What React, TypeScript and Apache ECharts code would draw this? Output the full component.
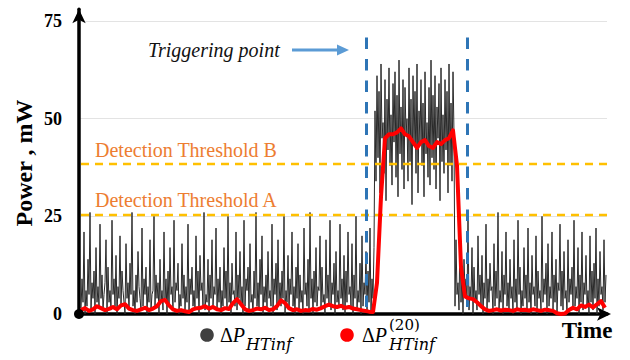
import { useEffect, useRef } from "react";
import * as echarts from "echarts";

// Instantaneous power difference (mW), one sample per time step
const powerNoise: number[] = [
  // before trigger
  1, 9, 3, 21, 0, 6, 2, 14, 5, 26, 1, 8, 4, 11, 0, 17, 3, 7, 2, 23,
  4, 10, 1, 5, 8, 19, 0, 12, 3, 6, 1, 24, 5, 9, 2, 15, 0, 7, 4, 20,
  2, 11, 6, 3, 0, 18, 4, 8, 1, 13, 5, 26, 2, 6, 0, 10, 3, 16, 7, 4,
  1, 22, 2, 9, 5, 12, 0, 7, 3, 19, 1, 5, 6, 25, 2, 10, 4, 8, 0, 14,
  3, 6, 1, 21, 4, 9, 0, 11, 2, 17, 5, 7, 1, 24, 3, 8, 6, 13, 0, 5,
  2, 18, 4, 10, 1, 7, 3, 23, 0, 9, 5, 12, 2, 6, 1, 20, 4, 11, 0, 15,
  6, 8, 2, 26, 1, 5, 3, 14, 0, 10, 4, 19, 2, 7, 5, 22, 1, 9, 3, 12,
  0, 6, 2, 17, 4, 11, 1, 25, 3, 8, 0, 13, 5, 6, 2, 21, 1, 10, 4, 16,
  3, 7, 0, 24, 2, 9, 6, 12, 1, 18, 3, 5, 0, 11, 4, 26, 2, 8, 1, 14,
  5, 20, 0, 7, 3, 10, 1, 16, 4, 6, 2, 23, 0, 9, 5, 13, 1, 19, 3, 8,
  2, 11, 4, 25, 0, 6, 3, 15, 1, 9, 5, 21, 2, 7, 0, 12, 4, 18, 1, 10,
  3, 6, 0, 22, 5, 8, 2, 14, 1, 26, 4, 9, 0, 11, 3, 17, 2, 7, 6, 20,
  1, 12, 3, 5, 0, 19, 4, 10, 2, 24, 1, 8, 5, 13, 0, 16, 3, 6, 2, 23,
  4, 9, 1, 15, 0, 11, 3, 21, 5, 7, 2, 18, 0, 10, 4, 25, 1, 6, 3, 13,
  0, 20, 2, 8, 5, 16, 1, 11, 3, 22, 0, 9, 4, 17,
  // trojan active
  52, 34, 61, 40, 57, 31, 64, 45, 49, 36, 60, 29, 55, 42, 63, 38, 51, 33, 59, 44,
  62, 35, 56, 30, 65, 41, 53, 37, 60, 32, 58, 46, 50, 34, 63, 39, 55, 28, 61, 43,
  57, 36, 64, 31, 52, 44, 60, 38, 54, 30, 62, 41, 49, 35, 58, 33, 65, 40, 56, 37,
  61, 32, 53, 45, 59, 29, 63, 39, 51, 36, 60, 42, 57, 31, 64, 38, 54, 34, 62, 46,
  // after
  2, 19, 5, 8, 1, 22, 3, 11, 0, 14, 6, 9, 2, 25, 1, 7, 4, 17, 0, 12,
  3, 6, 1, 20, 5, 10, 2, 15, 0, 8, 4, 23, 1, 9, 3, 13, 6, 7, 0, 18,
  2, 11, 4, 26, 1, 6, 3, 16, 0, 10, 5, 21, 2, 8, 1, 14, 4, 7, 0, 19,
  3, 9, 1, 24, 5, 12, 0, 6, 2, 17, 4, 10, 1, 22, 3, 8, 0, 15, 5, 7,
  2, 20, 0, 11, 4, 6, 1, 25, 3, 9, 5, 13, 0, 18, 2, 7, 4, 21, 1, 10,
  3, 14, 0, 8, 6, 23, 2, 11, 1, 16, 4, 6, 0, 19, 3, 9, 5, 12, 1, 24,
  2, 7, 4, 17, 0, 10, 3, 21, 1, 8, 5, 15, 2, 6, 0, 20, 3, 11, 1, 13,
  4, 22, 0, 9, 2, 16, 5, 7, 1, 19, 3, 10,
];

// 20-sample moving average (mW), one value every 4 time steps
const avgStep = 4;
const powerAvg20: number[] = [
  1, 1.5, 0.8, 1.2, 2, 1.5, 1, 1.3, 1.8, 1.2,
  2.2, 2.5, 1.4, 1, 0.8, 1.2, 1.6, 1, 1.4, 2,
  3.3, 3.6, 2.2, 1.2, 0.8, 1, 0.7, 0.5, 1.2, 1.5,
  1.6, 2, 1.4, 1.8, 1.2, 1, 1.5, 1.3, 2.8, 3.8,
  2.5, 1.2, 0.8, 1, 1.4, 1.2, 1.6, 1, 1.2, 2,
  3.5, 2.8, 1.5, 1, 1.2, 0.8, 1, 0.9, 1.3, 1.1,
  1.5, 2, 2.4, 2, 1.8, 2.1, 1.6, 1.8, 1.4, 1.2,
  1, 0.8, 0.6, 0.5,
  8, 30,
  45, 46, 46, 46.5, 47.5, 46, 45.5, 44, 42.5, 44, 44.5, 43, 42.5, 44, 43.5, 44.5, 45, 47,
  38, 12,
  4.5, 4, 3.8, 3, 2, 1.2, 0.8, 1, 1.2, 0.9,
  1.1, 1, 0.8, 1.2, 1, 1.1, 0.9, 1.2, 1, 0.8,
  1.1, 1, 0.8, 0.2, 0, 0.1, 1, 1.6, 1.2, 2.2,
  1.8, 2.4, 1.7, 2.5, 3.3, 1.6,
];

const yTicks = [0, 25, 50, 75];
const yMax = 78;
const thresholdA = 25.3;
const thresholdB = 38.4;
const triggerStart = 285;
const triggerEnd = 386;
const triggerLow = 1.8;
const triggerHigh = 72;

const SERIF = "Liberation Serif";
const MATH = "DejaVu Serif";

export default function App() {
  const ref = useRef<HTMLDivElement>(null);

  useEffect(() => {
    const chart = echarts.init(ref.current!, null, { renderer: "svg" });
    const lastX = powerNoise.length - 1;
    const noiseData = powerNoise.map((v, i) => [i, v]);
    const avgData = powerAvg20.map((v, k) => [k * avgStep, v]);

    const hLine = (y: number, color: string, width: number, type: any) => [
      { coord: [0, y], lineStyle: { color, width, type } },
      { coord: [lastX + 1, y] },
    ];
    const vLine = (x: number) => [
      { coord: [x, triggerLow], lineStyle: { color: "#2E75B6", width: 3, type: [11.5, 10] } },
      { coord: [x, triggerHigh] },
    ];

    const legendText = (x: number, y: number, text: string, size: number, italic: boolean, font: string) => ({
      type: "text",
      x,
      y,
      style: {
        text,
        fontFamily: font,
        fontSize: size,
        fontStyle: italic ? "italic" : "normal",
        fill: "#000",
        align: "left",
        verticalAlign: "middle",
      },
    });

    const deltaP = (x: number) => ({
      type: "text",
      x,
      y: 334.5,
      style: {
        text: "{a|Δ}{b|P}",
        fill: "#000",
        align: "left",
        verticalAlign: "middle",
        rich: {
          a: { fontFamily: SERIF, fontSize: 20, fill: "#000" },
          b: { fontFamily: SERIF, fontSize: 20, fontStyle: "italic", fill: "#000" },
        },
      },
    });

    const option: any = {
      animation: false,
      grid: {
        left: 79,
        right: 23,
        top: 9.3,
        bottom: 46,
        containLabel: false,
        outerBoundsMode: "none",
      },
      xAxis: {
        type: "value",
        min: -2,
        max: lastX + 1,
        axisLine: {
          show: true,
          onZero: false,
          symbol: ["none", "arrow"],
          symbolSize: [10, 14],
          symbolOffset: [0, 4],
          lineStyle: { color: "#000", width: 3.5 },
        },
        axisTick: { show: false },
        axisLabel: { show: false },
        splitLine: { show: false },
      },
      yAxis: {
        type: "value",
        min: yTicks[0],
        max: yMax,
        interval: yTicks[1] - yTicks[0],
        axisLine: {
          show: true,
          onZero: false,
          symbol: ["none", "arrow"],
          symbolSize: [10, 14],
          lineStyle: { color: "#000", width: 3.5 },
        },
        axisTick: { show: false },
        axisLabel: {
          show: true,
          margin: 17,
          fontSize: 18,
          fontWeight: "bold",
          fontFamily: SERIF,
          color: "#000",
          showMaxLabel: false,
          formatter: (v: number) => (yTicks.includes(v) ? String(v) : ""),
        },
        splitLine: {
          show: true,
          showMinLine: false,
          showMaxLine: false,
          lineStyle: { color: "#E3E3E3", width: 1 },
        },
      },
      series: [
        {
          type: "line",
          name: "noise",
          data: noiseData,
          symbol: "none",
          showSymbol: false,
          sampling: "none",
          z: 2,
          silent: true,
          lineStyle: { color: "#2a2a2a", width: 1 },
          emphasis: { disabled: true },
          markLine: {
            silent: true,
            symbol: "none",
            z: 5,
            label: { show: false },
            emphasis: { disabled: true },
            data: [
              hLine(thresholdB, "#FFC000", 2.3, [8, 6]),
              hLine(thresholdA, "#FFC000", 2.3, [8, 6]),
              vLine(triggerStart),
              vLine(triggerEnd),
            ],
          },
        },
        {
          type: "line",
          name: "avg",
          data: avgData,
          symbol: "none",
          showSymbol: false,
          z: 8,
          silent: true,
          lineStyle: { color: "#FF0000", width: 4, join: "round" },
          emphasis: { disabled: true },
        },
      ],
      graphic: [
        { type: "circle", shape: { cx: 79, cy: 314, r: 5 }, style: { fill: "#000" }, z: 100 },
        {
          type: "text",
          x: 24,
          y: 163,
          rotation: Math.PI / 2,
          style: {
            text: "Power , mW",
            fontFamily: SERIF,
            fontSize: 24,
            fontWeight: "bold",
            fill: "#000",
            align: "center",
            verticalAlign: "middle",
          },
        },
        {
          type: "text",
          x: 587,
          y: 330,
          style: {
            text: "Time",
            fontFamily: SERIF,
            fontSize: 23,
            fontWeight: "bold",
            fill: "#000",
            align: "center",
            verticalAlign: "middle",
          },
        },
        {
          type: "text",
          x: 95,
          y: 150,
          style: {
            text: "Detection Threshold B",
            fontFamily: SERIF,
            fontSize: 20,
            fill: "#ED7D31",
            align: "left",
            verticalAlign: "middle",
          },
        },
        {
          type: "text",
          x: 95,
          y: 200,
          style: {
            text: "Detection Threshold A",
            fontFamily: SERIF,
            fontSize: 20,
            fill: "#ED7D31",
            align: "left",
            verticalAlign: "middle",
          },
        },
        {
          type: "text",
          x: 148,
          y: 50,
          style: {
            text: "Triggering point",
            fontFamily: SERIF,
            fontSize: 20,
            fontStyle: "italic",
            fill: "#111",
            align: "left",
            verticalAlign: "middle",
          },
        },
        {
          type: "line",
          shape: { x1: 292, y1: 50, x2: 340, y2: 50 },
          style: { stroke: "#5B9BD5", lineWidth: 3 },
        },
        {
          type: "polygon",
          shape: { points: [[337, 44.5], [349, 50], [337, 55.5]] },
          style: { fill: "#5B9BD5" },
        },
        // legend
        { type: "circle", shape: { cx: 207, cy: 335, r: 6.8 }, style: { fill: "#404040" } },
        deltaP(220),
        legendText(246, 344, "HTinf", 16, true, MATH),
        { type: "circle", shape: { cx: 347, cy: 335, r: 6.8 }, style: { fill: "#FF0000" } },
        deltaP(362),
        legendText(389, 324.5, "(20)", 15, false, MATH),
        legendText(389, 344, "HTinf", 16, true, MATH),
      ],
    };

    chart.setOption(option);
    return () => chart.dispose();
  }, []);

  return (
    <div
      ref={ref}
      style={{ position: "fixed", left: 0, top: 0, width: 630, height: 360, background: "#fff" }}
    />
  );
}
